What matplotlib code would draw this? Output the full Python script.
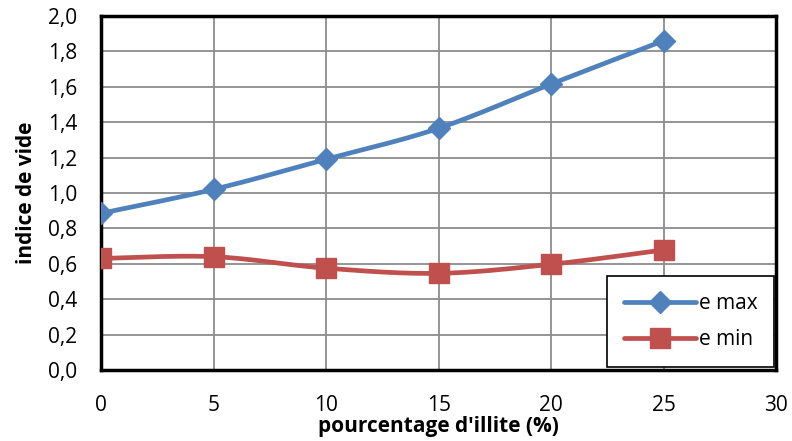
import numpy as np
import matplotlib
matplotlib.use("Agg")
import matplotlib.pyplot as plt
from matplotlib.lines import Line2D
from matplotlib.ticker import FuncFormatter

x_vals = [0, 5, 10, 15, 20, 25]
e_max = [0.885, 1.02, 1.19, 1.365, 1.615, 1.86]
e_min = [0.63, 0.64, 0.575, 0.546, 0.597, 0.678]
x_ticks = [0, 5, 10, 15, 20, 25, 30]
y_ticks = [0.0, 0.2, 0.4, 0.6, 0.8, 1.0, 1.2, 1.4, 1.6, 1.8, 2.0]

BLUE = "#4F81BD"
RED = "#C0504D"

plt.rcParams['font.family'] = ['Open Sans', 'DejaVu Sans']


def smooth(xs, ys, n=30):
    """Excel-like smoothed line (Catmull-Rom Bezier) through the points."""
    xs = np.asarray(xs, float)
    ys = np.asarray(ys, float)
    P = np.column_stack([xs, ys])
    out = []
    for i in range(len(P) - 1):
        p0 = P[i - 1] if i > 0 else P[i]
        p1 = P[i]
        p2 = P[i + 1]
        p3 = P[i + 2] if i + 2 < len(P) else P[i + 1]
        c1 = p1 + (p2 - p0) / 6.0
        c2 = p2 - (p3 - p1) / 6.0
        t = np.linspace(0, 1, n)[:, None]
        seg = ((1 - t) ** 3) * p1 + 3 * ((1 - t) ** 2) * t * c1 + 3 * (1 - t) * t ** 2 * c2 + t ** 3 * p2
        out.append(seg if i == 0 else seg[1:])
    s = np.vstack(out)
    return s[:, 0], s[:, 1]


fig = plt.figure(figsize=(7.92, 4.41), dpi=100)
ax = fig.add_axes([0.1275, 0.161, 0.8525, 0.803])

for ys, col, mk, ms in [(e_max, BLUE, 'D', 11), (e_min, RED, 's', 14)]:
    sx, sy = smooth(x_vals, ys)
    ax.plot(sx, sy, color=col, lw=3.4, solid_capstyle='round', zorder=3)
    ax.plot(x_vals, ys, linestyle='none', marker=mk, markersize=ms, color=col, zorder=4)

ax.set_xlim(0, 30)
ax.set_ylim(0, 2.0)
ax.set_xticks(x_ticks)
ax.set_yticks(y_ticks)
ax.yaxis.set_major_formatter(FuncFormatter(lambda v, p: f"{v:.1f}".replace('.', ',')))
ax.grid(True, color='#8c8c8c', lw=1.3)
ax.set_axisbelow(True)
for sp in ax.spines.values():
    sp.set_color('black')
    sp.set_linewidth(2.5)
ax.tick_params(axis='both', length=0, labelsize=15)
ax.tick_params(axis='x', pad=18)
ax.tick_params(axis='y', pad=17)

ax.set_xlabel("pourcentage d'illite (%)", fontsize=15, fontweight='bold', labelpad=0)
ax.set_ylabel("indice de vide", fontsize=15, fontweight='bold', labelpad=8)

handles = [Line2D([], [], color=BLUE, lw=3.4, marker='D', markersize=11, solid_capstyle='round'),
           Line2D([], [], color=RED, lw=3.4, marker='s', markersize=14, solid_capstyle='round')]
leg = ax.legend(handles, ['e max', 'e min'], loc='lower right', fontsize=15,
                fancybox=False, framealpha=1, edgecolor='black', handlelength=3.5,
                handletextpad=0.1, labelspacing=0.75, borderpad=0.8,
                borderaxespad=0, bbox_to_anchor=(0.9965, 0.008))
leg.get_frame().set_linewidth(1.2)

fig.savefig("out.png", dpi=100)
